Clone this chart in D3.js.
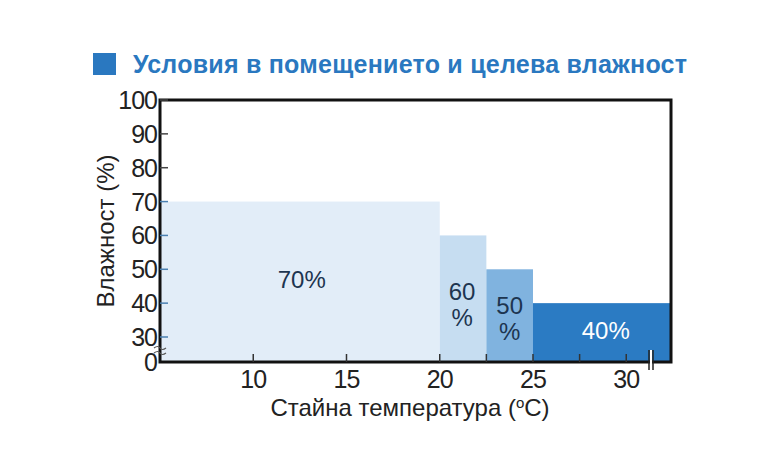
<!DOCTYPE html><html><head><meta charset="utf-8"><script src="https://cdn.jsdelivr.net/npm/d3@7"></script>
<style>body{margin:0;background:#fff}</style></head><body><svg id="c" width="779" height="450"></svg><script>
const xStart=[5,20,22.5,25];
const xEnd=[20,22.5,25,32.4];
const humidity=[70,60,50,40];
const labels=[["70%"],["60","%"],["50","%"],["40%"]];
const fills=["#e2edf8","#c6ddf1","#80b3df","#2b7bc3"];
const xTicks=[10,15,20,25,30];
const yTicks=[30,40,50,60,70,80,90,100];
const svg=d3.select("#c"),F="Liberation Sans, Arial, sans-serif";
const L=160,R=671,T=100,B=362;
const x=d3.scaleLinear().domain([5,32.4]).range([L,R]);
const y=d3.scaleLinear().domain([30,100]).range([337,T]);
const yb=v=>v===0?B:y(v);
svg.append("rect").attr("x",93).attr("y",53).attr("width",23).attr("height",22).attr("fill","#2a78c0");
svg.append("text").attr("x",133).attr("y",73).attr("font-family",F).attr("font-weight","bold").attr("font-size",25).attr("textLength",554).attr("fill","#2a78c0").text("Условия в помещението и целева влажност");
humidity.forEach((h,i)=>{
 svg.append("rect").attr("x",x(xStart[i])).attr("y",y(h)).attr("width",x(xEnd[i])-x(xStart[i])).attr("height",B-y(h)).attr("fill",fills[i]);
});
const lp=[[12.6,282,null],[21.2,294,320],[23.75,308,334],[28.9,333,null]];
labels.forEach((l,i)=>{l.forEach((t,j)=>{svg.append("text").attr("x",x(lp[i][0])).attr("y",j?lp[i][2]:lp[i][1]).attr("text-anchor","middle").attr("dominant-baseline","middle").attr("font-family",F).attr("font-size",24).attr("fill",i==3?"#fff":"#1d3550").text(t);});});
svg.append("rect").attr("x",L).attr("y",T).attr("width",R-L).attr("height",B-T).attr("fill","none").attr("stroke","#111").attr("stroke-width",3);
yTicks.concat([0]).forEach(v=>{
 if(v!==0) svg.append("line").attr("x1",L).attr("x2",L+8).attr("y1",yb(v)).attr("y2",yb(v)).attr("stroke",v<=70?"#4a7fb0":"#444").attr("stroke-width",1.5);
 svg.append("text").attr("x",L-3).attr("y",yb(v)).attr("dy","0.36em").attr("text-anchor","end").attr("font-family",F).attr("font-size",25).attr("letter-spacing",-1).attr("fill","#222").text(v);
});
svg.append("path").attr("d",`M${L-6},${348}q4,-3 6,0t6,0 M${L-6},${353}q4,-3 6,0t6,0`).attr("fill","none").attr("stroke","#555").attr("stroke-width",1.2);
[10,15,20,22.5,25,27.5,30].forEach(v=>svg.append("line").attr("x1",x(v)).attr("x2",x(v)).attr("y1",B).attr("y2",B-8).attr("stroke","#333").attr("stroke-width",1.5));
xTicks.forEach(v=>svg.append("text").attr("x",x(v)).attr("y",B+26).attr("text-anchor","middle").attr("font-family",F).attr("font-size",25).attr("letter-spacing",-1).attr("fill","#222").text(v));
[649,653].forEach(px=>svg.append("line").attr("x1",px).attr("x2",px).attr("y1",B-12).attr("y2",B+8).attr("stroke","#222").attr("stroke-width",1.5));
svg.append("rect").attr("x",650).attr("y",B-12).attr("width",2).attr("height",20).attr("fill","#fff");
svg.append("text").attr("x",410).attr("y",416).attr("text-anchor","middle").attr("font-family",F).attr("font-size",24).attr("fill","#222").html('Стайна температура (<tspan dy="-8" font-size="15">o</tspan><tspan dy="8">C)</tspan>');
svg.append("text").attr("transform","translate(114,231) rotate(-90)").attr("text-anchor","middle").attr("font-family",F).attr("font-size",24).attr("fill","#222").text("Влажност (%)");
</script></body></html>
